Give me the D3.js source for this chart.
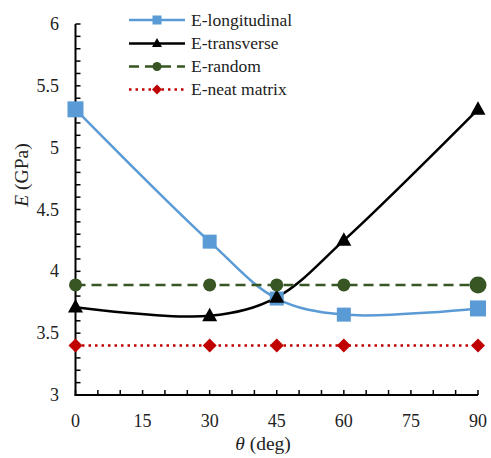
<!DOCTYPE html>
<html><head><meta charset="utf-8">
<script src="https://cdn.jsdelivr.net/npm/d3@7"></script>
<style>body{margin:0;background:#fff}svg{display:block}</style>
</head><body>
<svg id="c" width="491" height="458"></svg>
<script>
const angles = [0, 30, 45, 60, 90];
const eLongitudinal = [5.31, 4.24, 3.78, 3.65, 3.70];
const eTransverse = [3.71, 3.64, 3.79, 4.25, 5.31];
const eRandom = [3.89, 3.89, 3.89, 3.89, 3.89];
const eNeat = [3.40, 3.40, 3.40, 3.40, 3.40];
const xTicks = [0, 15, 30, 45, 60, 75, 90];
const yTicks = [3, 3.5, 4, 4.5, 5, 5.5, 6];
const seriesNames = ["E-longitudinal", "E-transverse", "E-random", "E-neat matrix"];

const svg = d3.select("#c");
const font = "'Liberation Serif','Times New Roman',serif";
const x = d3.scaleLinear().domain([0, 90]).range([75.5, 478]);
const y = d3.scaleLinear().domain([3, 6]).range([395, 24]);

const series = [
  {name: seriesNames[0], vals: eLongitudinal, color: "#5B9BD5", dash: null, marker: "square", smooth: true},
  {name: seriesNames[1], vals: eTransverse, color: "#000000", dash: null, marker: "triangle", smooth: true},
  {name: seriesNames[2], vals: eRandom, color: "#375623", dash: "10,6", marker: "circle", smooth: false},
  {name: seriesNames[3], vals: eNeat, color: "#C00000", dash: "2.5,4", marker: "diamond", smooth: false}
];

function drawMarker(g, type, cx, cy, s, color) {
  if (type === "square") {
    g.append("rect").attr("x", cx - s/2).attr("y", cy - s/2).attr("width", s).attr("height", s).attr("fill", color);
  } else if (type === "triangle") {
    const h = s * 0.9;
    g.append("path").attr("d", `M${cx},${cy - h*0.6}L${cx + s/2},${cy + h*0.4}L${cx - s/2},${cy + h*0.4}Z`).attr("fill", color);
  } else if (type === "circle") {
    g.append("circle").attr("cx", cx).attr("cy", cy).attr("r", s/2).attr("fill", color);
  } else if (type === "diamond") {
    g.append("path").attr("d", `M${cx},${cy - s/2}L${cx + s/2},${cy}L${cx},${cy + s/2}L${cx - s/2},${cy}Z`).attr("fill", color);
  }
}

// axes
const xMinor = d3.range(0, 91, 5);
const yMinor = d3.range(3, 6.001, 0.1);
const ax = svg.append("g");
ax.selectAll(".xt").data(xMinor).enter().append("line")
  .attr("x1", d => x(d)).attr("x2", d => x(d)).attr("y1", 395).attr("y2", 390)
  .attr("stroke", "#000").attr("stroke-width", 1.5);
ax.selectAll(".yt").data(yMinor).enter().append("line")
  .attr("y1", d => y(d)).attr("y2", d => y(d)).attr("x1", 75.5).attr("x2", 80.5)
  .attr("stroke", "#000").attr("stroke-width", 1.5);
ax.append("line").attr("x1", 75.5).attr("x2", 75.5).attr("y1", y(6)).attr("y2", 395.5).attr("stroke", "#000").attr("stroke-width", 2);
ax.append("line").attr("x1", 74.5).attr("x2", x(90)).attr("y1", 395).attr("y2", 395).attr("stroke", "#000").attr("stroke-width", 2);

svg.selectAll(".xl").data(xTicks).enter().append("text")
  .attr("x", d => x(d)).attr("y", 427).attr("text-anchor", "middle")
  .attr("font-family", font).attr("font-size", 18).attr("fill", "#222").text(d => d);
svg.selectAll(".yl").data(yTicks).enter().append("text")
  .attr("x", 59).attr("y", d => y(d) + 6).attr("text-anchor", "end")
  .attr("font-family", font).attr("font-size", 18).attr("fill", "#222").text(d => d);

svg.append("text").attr("x", 263).attr("y", 450).attr("text-anchor", "middle")
  .attr("font-family", font).attr("font-size", 19.5).attr("fill", "#222")
  .html('<tspan font-style="italic">θ</tspan> (deg)');
svg.append("text").attr("transform", "translate(28,175) rotate(-90)").attr("text-anchor", "middle")
  .attr("font-family", font).attr("font-size", 19.5).attr("fill", "#222")
  .html('<tspan font-style="italic">E</tspan> (GPa)');

// series
const plot = svg.append("g");
series.forEach(s => {
  const pts = angles.map((a, i) => [x(a), y(s.vals[i])]);
  const line = d3.line().curve(s.smooth ? d3.curveCatmullRom.alpha(0.5) : d3.curveLinear);
  plot.append("path").attr("d", line(pts)).attr("fill", "none")
    .attr("stroke", s.color).attr("stroke-width", 2.5)
    .attr("stroke-dasharray", s.dash);
});
series.forEach(s => {
  angles.forEach((a, i) => {
    let sz = {square: 14, triangle: 15, circle: 13, diamond: 14}[s.marker];
    if (s.marker === "square" && (i === 0 || i === 4)) sz = 16;
    if (s.marker === "circle" && i === 4) sz = 17;
    drawMarker(plot, s.marker, x(a), y(s.vals[i]), sz, s.color);
  });
});

// legend
const lg = svg.append("g");
const rows = [20, 43.5, 66.5, 89.5];
series.forEach((s, i) => {
  lg.append("line").attr("x1", 129).attr("x2", 185).attr("y1", rows[i]).attr("y2", rows[i])
    .attr("stroke", s.color).attr("stroke-width", 2.5).attr("stroke-dasharray", s.dash);
  const sz = {square: 9, triangle: 10, circle: 9, diamond: 10}[s.marker];
  drawMarker(lg, s.marker, 157, rows[i], sz, s.color);
  lg.append("text").attr("x", 191).attr("y", rows[i] + 5.5).attr("font-family", font)
    .attr("font-size", 17.5).attr("fill", "#222").text(s.name);
});
</script>
</body></html>
